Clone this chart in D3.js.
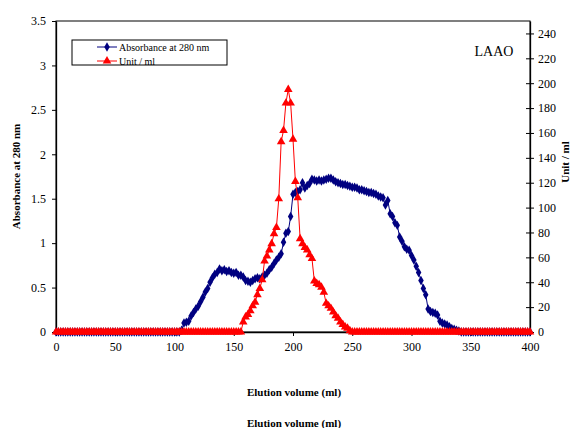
<!DOCTYPE html>
<html><head><meta charset="utf-8">
<script src="https://cdn.jsdelivr.net/npm/d3@7"></script>
<style>body{margin:0;background:#fff}svg{display:block}svg text{font-family:"Liberation Serif",serif !important}</style>
</head><body><div id="c"></div>
<script>
// Elution volume (ml) for each fraction
const volume = [0,2,4,6,8,10,12,14,16,18,20,22,24,26,28,30,32,34,36,38,40,42,44,46,48,50,52,54,56,58,60,62,64,66,68,70,72,74,76,78,80,82,84,86,88,90,92,94,96,98,100,102,104,106,108,110,112,114,116,118,120,122,124,126,128,130,132,134,136,138,140,142,144,146,148,150,152,154,156,158,160,162,164,166,168,170,172,174,176,178,180,182,184,186,188,190,192,194,196,198,200,202,204,206,208,210,212,214,216,218,220,222,224,226,228,230,232,234,236,238,240,242,244,246,248,250,252,254,256,258,260,262,264,266,268,270,272,274,276,278,280,282,284,286,288,290,292,294,296,298,300,302,304,306,308,310,312,314,316,318,320,322,324,326,328,330,332,334,336,338,340,342,344,346,348,350,352,354,356,358,360,362,364,366,368,370,372,374,376,378,380,382,384,386,388,390,392,394,396,398,400];
// Absorbance at 280 nm
const absorbance = [0,0,0,0,0,0,0,0,0,0,0,0,0,0,0,0,0,0,0,0,0,0,0,0,0,0,0,0,0,0,0,0,0,0,0,0,0,0,0,0,0,0,0,0,0,0,0,0,0,0,0,0,0,
0.02,0.10,0.11,0.12,0.18,0.22,0.26,0.29,0.34,0.39,0.45,0.49,0.56,0.61,0.65,0.67,0.71,0.69,0.70,0.68,0.69,0.67,0.66,0.67,0.64,0.64,0.62,0.58,0.57,0.56,0.58,0.60,0.61,0.60,0.62,0.64,0.66,0.70,0.73,0.77,0.81,0.84,0.88,1.01,1.11,1.13,1.30,
1.55,1.57,1.58,1.60,1.68,1.62,1.65,1.67,1.72,1.71,1.70,1.71,1.70,1.71,1.72,1.73,1.73,1.71,1.69,1.68,1.67,1.66,1.66,1.65,1.64,1.63,1.63,1.62,1.60,1.60,1.59,1.58,1.57,1.57,1.56,1.55,1.53,1.52,1.51,1.43,1.48,1.33,1.30,1.23,1.20,1.07,1.02,0.96,0.93,0.92,
0.86,0.81,0.74,0.67,0.58,0.49,0.42,0.26,0.23,0.22,0.21,0.19,0.12,0.10,0.09,0.08,0.06,0.04,0.03,0.02,0.01,
0,0,0,0,0,0,0,0,0,0,0,0,0,0,0,0,0,0,0,0,0,0,0,0,0,0,0,0,0,0];
// Enzyme activity, Unit / ml
const units = [0,0,0,0,0,0,0,0,0,0,0,0,0,0,0,0,0,0,0,0,0,0,0,0,0,0,0,0,0,0,0,0,0,0,0,0,0,0,0,0,0,0,0,0,0,0,0,0,0,0,0,0,0,0,0,0,0,0,0,0,0,0,0,0,0,0,0,0,0,0,0,0,0,0,0,0,0,0,0,
8,12,14,17,21,24,30,35,42,57,61,66,71,79,84,107,153,162,184,195,184,155,121,108,75,71,68,66,62,59,41,39,38,36,32,23,21,19,16,13,11,8,6,4,3,1,
0,0,0,0,0,0,0,0,0,0,0,0,0,0,0,0,0,0,0,0,0,0,0,0,0,0,0,0,0,0,0,0,0,0,0,0,0,0,0,0,0,0,0,0,0,0,0,0,0,0,0,0,0,0,0,0,0,0,0,0,0,0,0,0,0,0,0,0,0,0,0,0,0,0,0,0];
const xTicks = [0,50,100,150,200,250,300,350,400];
const yLeftTicks = [0,0.5,1,1.5,2,2.5,3,3.5];
const yRightTicks = [0,20,40,60,80,100,120,140,160,180,200,220,240];
const seriesNames = ["Absorbance at 280 nm","Unit / ml"];
const seriesColors = ["#000080","#FF0000"];

const FF = "Liberation Serif";
const W=571,H=428;
const m={l:56,r:41,t:21,b:96};
const svg=d3.select("#c").append("svg").attr("width",W).attr("height",H);
const x=d3.scaleLinear().domain([0,400]).range([m.l,W-m.r]);
const yL=d3.scaleLinear().domain([0,3.5]).range([H-m.b,m.t]);
const yR=d3.scaleLinear().domain([0,250]).range([H-m.b,m.t]);

function styleAxis(g){
  g.attr("font-family",FF);
  g.select(".domain").attr("stroke","#000").attr("stroke-width",1.3);
  g.selectAll(".tick line").attr("stroke","#000");
  g.selectAll(".tick text").attr("font-size","12px").attr("font-family",FF).attr("fill","#000");
}
// plot frame
svg.append("rect").attr("x",m.l).attr("y",m.t).attr("width",W-m.r-m.l).attr("height",H-m.b-m.t)
  .attr("fill","none").attr("stroke","#000").attr("stroke-width",1);

svg.append("g").attr("transform",`translate(0,${H-m.b})`)
  .call(d3.axisBottom(x).tickValues(xTicks).tickSize(4).tickSizeOuter(0).tickPadding(6))
  .call(styleAxis);
svg.append("g").attr("transform",`translate(${m.l},0)`)
  .call(d3.axisLeft(yL).tickValues(yLeftTicks).tickFormat(d3.format("")).tickSize(4).tickSizeOuter(0).tickPadding(6))
  .call(styleAxis);
const gr=svg.append("g").attr("transform",`translate(${W-m.r},0)`)
  .call(d3.axisRight(yR).tickValues(yRightTicks).tickSize(4).tickSizeOuter(0).tickPadding(4))
  .call(styleAxis);
gr.selectAll(".tick line").attr("x1",-4);

const absData=volume.map((v,i)=>({x:v,y:absorbance[i]}));
const unitData=volume.map((v,i)=>({x:v,y:units[i]}));

const diamond=d3.symbol().type(d3.symbolDiamond).size(26);
const tri=d3.symbol().type(d3.symbolTriangle).size(32);

svg.append("path").datum(absData).attr("fill","none").attr("stroke",seriesColors[0]).attr("stroke-width",1)
  .attr("d",d3.line().x(d=>x(d.x)).y(d=>yL(d.y)));
svg.append("g").selectAll("path").data(absData).join("path")
  .attr("transform",d=>`translate(${x(d.x)},${yL(d.y)})`).attr("d",diamond).attr("fill",seriesColors[0]);

svg.append("path").datum(unitData).attr("fill","none").attr("stroke",seriesColors[1]).attr("stroke-width",1)
  .attr("d",d3.line().x(d=>x(d.x)).y(d=>yR(d.y)));
svg.append("g").selectAll("path").data(unitData).join("path")
  .attr("transform",d=>`translate(${x(d.x)},${yR(d.y)})`).attr("d",tri).attr("fill",seriesColors[1]);

// legend
const lg=svg.append("g");
lg.append("rect").attr("x",72).attr("y",40).attr("width",155).attr("height",25).attr("fill","#fff").attr("stroke","#000").attr("stroke-width",1);
[0,1].forEach(i=>{
  const yy=47+i*14;
  lg.append("line").attr("x1",97).attr("x2",117).attr("y1",yy).attr("y2",yy).attr("stroke",seriesColors[i]).attr("stroke-width",1);
  lg.append("path").attr("transform",`translate(107,${yy})`).attr("d",i===0?diamond:tri).attr("fill",seriesColors[i]);
  lg.append("text").attr("x",119).attr("y",yy+3.5).attr("font-family",FF).attr("font-size","10px").text(seriesNames[i]);
});

svg.append("text").attr("x",494).attr("y",56).attr("text-anchor","middle").attr("font-family",FF).attr("font-size","14px").text("LAAO");

svg.append("text").attr("transform",`translate(20,${(m.t+H-m.b)/2}) rotate(-90)`).attr("text-anchor","middle")
  .attr("font-family",FF).attr("font-size","11px").attr("font-weight","bold").text("Absorbance at 280 nm");
svg.append("text").attr("transform",`translate(569,162) rotate(-90)`).attr("text-anchor","middle")
  .attr("font-family",FF).attr("font-size","11px").attr("font-weight","bold").text("Unit / ml");
svg.append("text").attr("x",294).attr("y",396).attr("text-anchor","middle")
  .attr("font-family",FF).attr("font-size","11px").attr("font-weight","bold").text("Elution volume (ml)");
svg.append("text").attr("x",294).attr("y",427).attr("text-anchor","middle")
  .attr("font-family",FF).attr("font-size","11px").attr("font-weight","bold").text("Elution volume (ml)");
</script></body></html>
